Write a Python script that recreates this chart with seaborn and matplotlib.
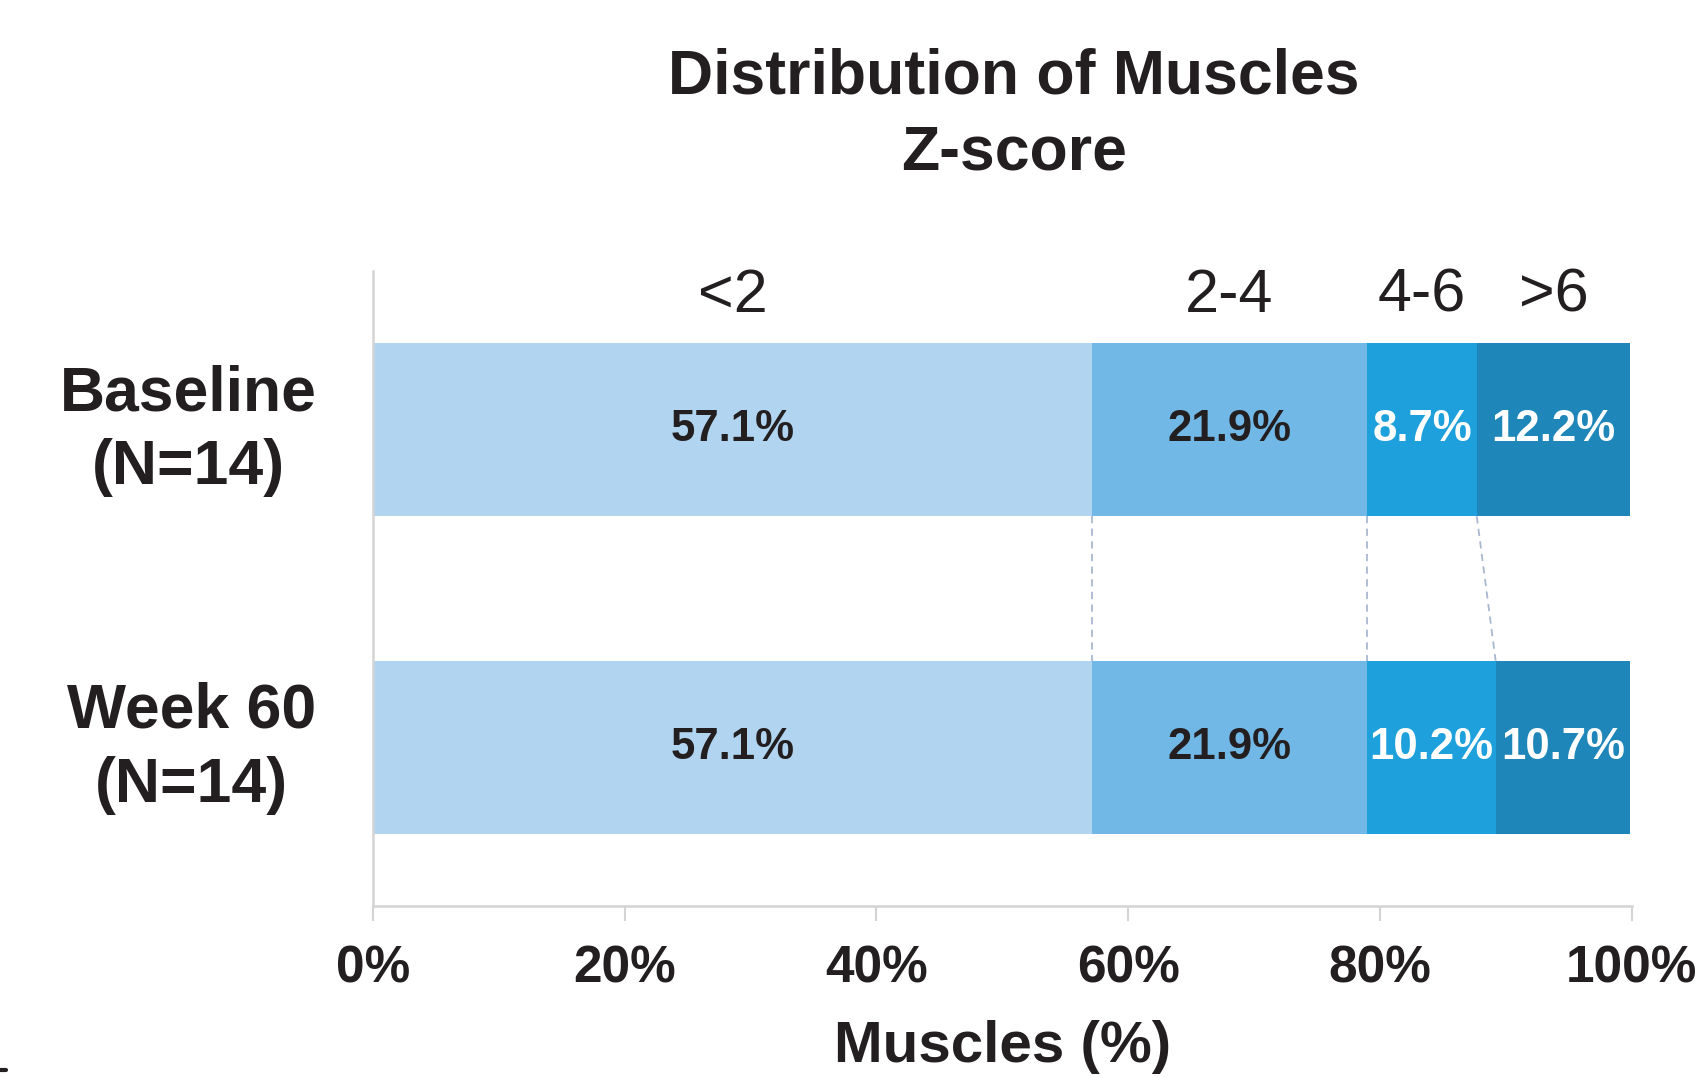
import numpy as np
import pandas as pd
import matplotlib
matplotlib.use('Agg')
import matplotlib.pyplot as plt
from matplotlib.lines import Line2D
import seaborn as sns

sns.set_theme(style='white')   # plain white background, no grid
plt.rcParams['font.family'] = ['Liberation Sans', 'DejaVu Sans']

# data
groups = ['Baseline\n(N=14)', 'Week 60\n(N=14)']
zscore_bins = ['<2', '2-4', '4-6', '>6']
baseline_pct = [57.1, 21.9, 8.7, 12.2]
week60_pct = [57.1, 21.9, 10.2, 10.7]
bin_colors = ['#b1d5f0', '#72b8e6', '#1ea0dc', '#1f86ba']
label_colors = ['#231f20', '#231f20', 'white', 'white']

df = pd.DataFrame({'group': np.repeat(groups, len(zscore_bins)),
                   'bin': zscore_bins * len(groups),
                   'pct': baseline_pct + week60_pct})
df['cum'] = df.groupby('group', sort=False)['pct'].cumsum()
df['start'] = df['cum'] - df['pct']

fig = plt.figure(figsize=(16.96, 10.78), dpi=100)
ax = fig.add_axes([0.22, 0.1596, 0.742, 0.589])

bar_h = 0.545
# stacked bars: draw cumulative totals from the widest down so each layer covers the next
for b, col in reversed(list(zip(zscore_bins, bin_colors))):
    sub = df[df['bin'] == b]
    sns.barplot(data=sub, x='cum', y='group', order=groups, orient='h', color=col,
                width=bar_h, saturation=1, edgecolor='none', linewidth=0, ax=ax)

# percentage labels inside the segments
for g_i, g in enumerate(groups):
    sub = df[df['group'] == g]
    for (_, r), tc in zip(sub.iterrows(), label_colors):
        ax.text(r['start'] + r['pct'] / 2, g_i, f"{r['pct']:.1f}%", ha='center', va='center',
                fontsize=31.5, fontweight='bold', color=tc)

# bin headers above the top bar
base = df[df['group'] == groups[0]]
for _, r in base.iterrows():
    ax.text(r['start'] + r['pct'] / 2, 0.96, r['bin'], transform=ax.get_xaxis_transform(),
            ha='center', va='center', fontsize=44, color='#231f20')

# dashed connectors between segment boundaries
cum0 = df[df['group'] == groups[0]]['cum'].values[:-1]
cum1 = df[df['group'] == groups[1]]['cum'].values[:-1]
for x0, x1 in zip(cum0, cum1):
    ax.plot([x0, x1], [bar_h / 2, 1 - bar_h / 2], ls=(0, (4, 3)), lw=1.3, color='#a9b8d0')

ax.set_xlim(0, 100)
ax.set_ylim(1.5, -0.5)
ax.set_xticks([0, 20, 40, 60, 80, 100])
ax.set_xticklabels([f'{v}%' for v in [0, 20, 40, 60, 80, 100]], fontweight='bold',
                   fontsize=37, color='#231f20')
ax.tick_params(axis='x', length=11, width=1.5, color='#d4d4d4', pad=17, bottom=True)
ax.tick_params(axis='y', length=0)

# group labels drawn by hand so the two-line block sits centred on its bar
ax.set_yticklabels([])
for g_i, g in enumerate(groups):
    ax.text(-0.045, g_i + 0.003, g, transform=ax.get_yaxis_transform(), ha='right', va='center',
            multialignment='center', linespacing=1.32, fontsize=45, fontweight='bold',
            color='#231f20')

ax.set_ylabel('')
ax.set_xlabel('Muscles (%)', fontweight='bold', fontsize=42, color='#231f20', va='center')
ax.xaxis.set_label_coords(0.5, -0.222)

for s in ['top', 'right']:
    ax.spines[s].set_visible(False)
for s in ['left', 'bottom']:
    ax.spines[s].set_color('#d4d4d4')
    ax.spines[s].set_linewidth(1.8)

# title, two lines
fig.text(0.598, 1 - 77 / 1078, 'Distribution of Muscles', ha='center', va='center',
         fontsize=45, fontweight='bold', color='#231f20')
fig.text(0.598, 1 - 153 / 1078, 'Z-score', ha='center', va='center',
         fontsize=45, fontweight='bold', color='#231f20')

# small stray mark in the corner of the original
fig.add_artist(Line2D([0, 6 / 1696], [8 / 1078, 8 / 1078], transform=fig.transFigure,
                      color='#231f20', lw=3))

fig.savefig('out.png', dpi=100)
